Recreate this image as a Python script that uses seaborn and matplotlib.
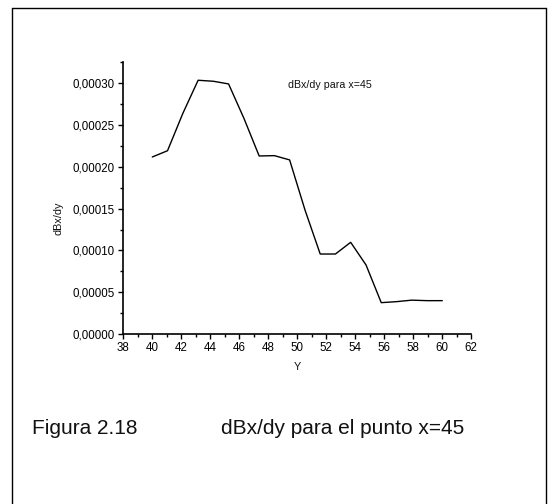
import matplotlib
matplotlib.use("Agg")
import matplotlib.pyplot as plt
from matplotlib.ticker import MultipleLocator, FuncFormatter
from matplotlib.lines import Line2D
import seaborn as sns
import pandas as pd

# Data
y_pos = [40.00, 41.05, 42.11, 43.16, 44.21, 45.26, 46.32, 47.37, 48.42, 49.47,
         50.53, 51.58, 52.63, 53.68, 54.74, 55.79, 56.84, 57.89, 58.95, 60.00]
dbx_dy = [0.0002118, 0.0002193, 0.0002641, 0.0003036, 0.0003024, 0.0002992,
          0.0002580, 0.0002130, 0.0002134, 0.0002083, 0.0001484, 0.0000957,
          0.0000957, 0.0001097, 0.0000826, 0.0000375, 0.0000387, 0.0000405,
          0.0000399, 0.0000399]
x_ticks = [38, 40, 42, 44, 46, 48, 50, 52, 54, 56, 58, 60, 62]
y_ticks = [0.0, 0.00005, 0.00010, 0.00015, 0.00020, 0.00025, 0.00030]

df = pd.DataFrame({"Y": y_pos, "dBx/dy": dbx_dy})

sns.set_style("ticks")
plt.rcParams["font.family"] = ["Liberation Sans", "DejaVu Sans"]
plt.rcParams["text.color"] = "#111111"

W, H = 552, 504
fig = plt.figure(figsize=(W / 100, H / 100), dpi=100)
fig.patch.set_facecolor("white")

ax = fig.add_axes([123.3 / W, 1 - 334 / H, (471.3 - 123.3) / W, (334 - 61.7) / H])
sns.lineplot(data=df, x="Y", y="dBx/dy", ax=ax, color="black", linewidth=1.0,
             sort=False, estimator=None)

ax.set_xlim(38, 62)
ax.set_ylim(0, 0.0003258)
ax.set_xticks(x_ticks)
ax.set_yticks(y_ticks)
ax.xaxis.set_minor_locator(MultipleLocator(1))
ax.yaxis.set_minor_locator(MultipleLocator(0.000025))
ax.yaxis.set_major_formatter(FuncFormatter(lambda v, p: f"{v:.5f}".replace(".", ",")))
ax.xaxis.set_major_formatter(FuncFormatter(lambda v, p: f"{int(round(v))}"))

for s in ["top", "right"]:
    ax.spines[s].set_visible(False)
for s in ["left", "bottom"]:
    ax.spines[s].set_linewidth(1.2)
    ax.spines[s].set_color("black")

ax.tick_params(axis="both", which="major", direction="out", length=3.5, width=1.0,
               labelsize=8.3, colors="black", pad=2.5)
ax.tick_params(axis="both", which="minor", direction="out", length=2.0, width=1.0,
               colors="black")
ax.set_facecolor("white")

ax.set_xlabel("")
ax.set_ylabel("")
fig.text(297.5 / W, 1 - 367.5 / H, "Y", ha="center", va="center", fontsize=7.8)
fig.text(59 / W, 1 - 218 / H, "dBx/dy", ha="center", va="center", rotation=90,
         fontsize=7.8)

fig.text(288.5 / W, 1 - 85 / H, "dBx/dy para x=45", ha="left", va="center",
         fontsize=7.7)

fig.text(32 / W, 1 - 428 / H, "Figura 2.18", ha="left", va="center", fontsize=15)
fig.text(221 / W, 1 - 428 / H, "dBx/dy para el punto x=45", ha="left",
         va="center", fontsize=15)

# frame around the figure (bottom edge lies outside the picture)
lx, rx, ty = 11.5 / W, 546 / W, 1 - 7.5 / H
for xs, ys in [([lx, lx], [ty, -0.05]), ([rx, rx], [ty, -0.05]), ([lx, rx], [ty, ty])]:
    fig.add_artist(Line2D(xs, ys, transform=fig.transFigure, color="black", linewidth=1.0))

fig.savefig("out.png", dpi=100, facecolor="white")
